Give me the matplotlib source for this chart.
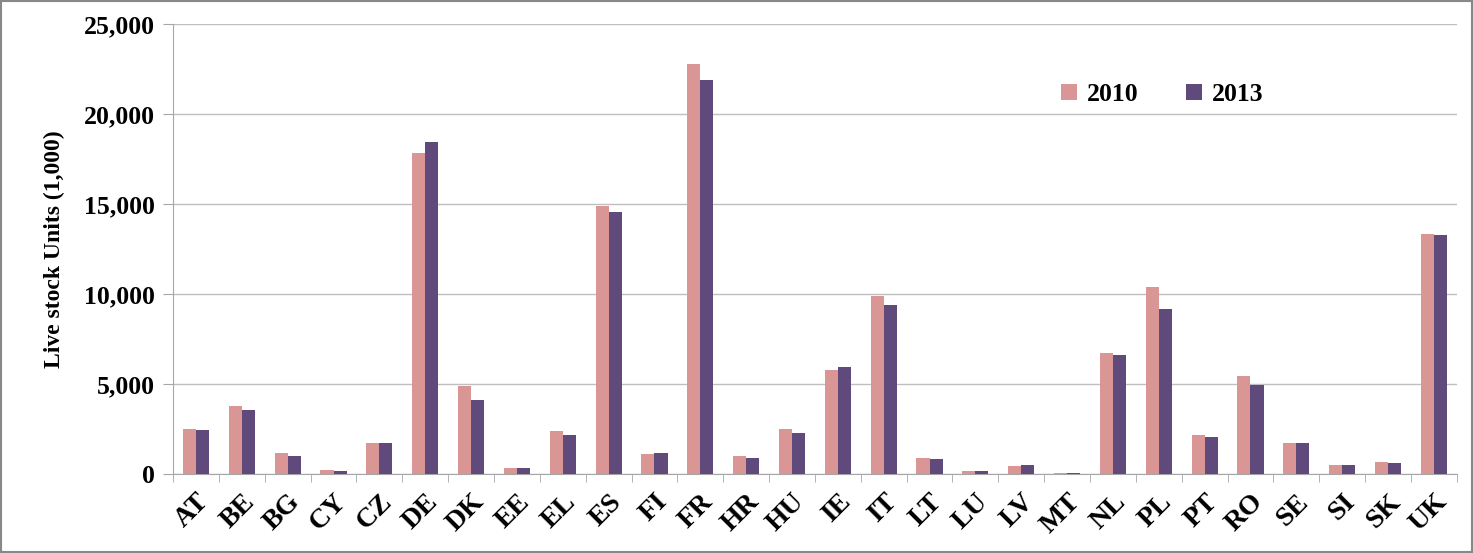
import numpy as np
import matplotlib.pyplot as plt
from matplotlib.ticker import FuncFormatter

# Live stock units (1,000) by member state
countries = ["AT", "BE", "BG", "CY", "CZ", "DE", "DK", "EE", "EL", "ES", "FI", "FR", "HR", "HU",
             "IE", "IT", "LT", "LU", "LV", "MT", "NL", "PL", "PT", "RO", "SE", "SI", "SK", "UK"]
lsu_2010 = [2500, 3800, 1140, 220, 1740, 17830, 4900, 330, 2400, 14870, 1110, 22750, 1000, 2500,
            5780, 9890, 910, 180, 460, 70, 6720, 10390, 2180, 5440, 1740, 520, 670, 13330]
lsu_2013 = [2420, 3570, 1020, 180, 1740, 18440, 4130, 330, 2160, 14560, 1170, 21900, 870, 2280,
            5940, 9390, 830, 180, 500, 50, 6600, 9170, 2040, 4960, 1700, 500, 630, 13280]

c2010 = "#D99694"
c2013 = "#604A7B"

plt.rcParams["font.family"] = ["Liberation Serif", "DejaVu Serif"]
plt.rcParams["font.weight"] = "bold"

fig = plt.figure(figsize=(14.73, 5.53), dpi=100)
ax = fig.add_axes([0.1175, 0.1429, 0.8715, 0.8137])

x = np.arange(len(countries))
w = 0.285
ax.bar(x - w / 2, lsu_2010, w, color=c2010, label="2010", zorder=3)
ax.bar(x + w / 2, lsu_2013, w, color=c2013, label="2013", zorder=3)

ax.set_xlim(-0.5, len(countries) - 0.5)
ax.set_ylim(0, 25000)
ax.set_yticks(np.arange(0, 25001, 5000))
ax.yaxis.set_major_formatter(FuncFormatter(lambda v, p: f"{int(v):,}"))
ax.grid(axis="y", color="#BFBFBF", linewidth=1, zorder=0)

ax.set_xticks(x)
ax.set_xticklabels(countries, rotation=45, ha="right", rotation_mode="anchor",
                   fontsize=20, fontweight="bold")
ax.set_xticks(np.arange(-0.5, len(countries), 1), minor=True)
ax.tick_params(axis="x", which="major", length=0, pad=11)
ax.tick_params(axis="x", which="minor", length=6, color="#A6A6A6")
ax.tick_params(axis="y", length=7, color="#A6A6A6", labelsize=18.5, pad=6)
for lbl in ax.get_yticklabels():
    lbl.set_fontweight("bold")

for s in ["top", "right"]:
    ax.spines[s].set_visible(False)
for s in ["left", "bottom"]:
    ax.spines[s].set_color("#A6A6A6")

ax.set_ylabel("Live stock Units (1,000)", fontsize=17, fontweight="bold", labelpad=14)

ax.legend(loc="upper left", bbox_to_anchor=(0.674, 0.92), ncol=2, frameon=False,
          prop={"size": 18.5, "weight": "bold"}, handlelength=0.6, handleheight=0.6,
          handletextpad=0.4, columnspacing=1.85)

fig.patches.append(plt.Rectangle((0.001, 0.002), 0.998, 0.996, transform=fig.transFigure,
                                 fill=False, edgecolor="#888888", linewidth=1.5))

fig.savefig("out.png", dpi=100)
